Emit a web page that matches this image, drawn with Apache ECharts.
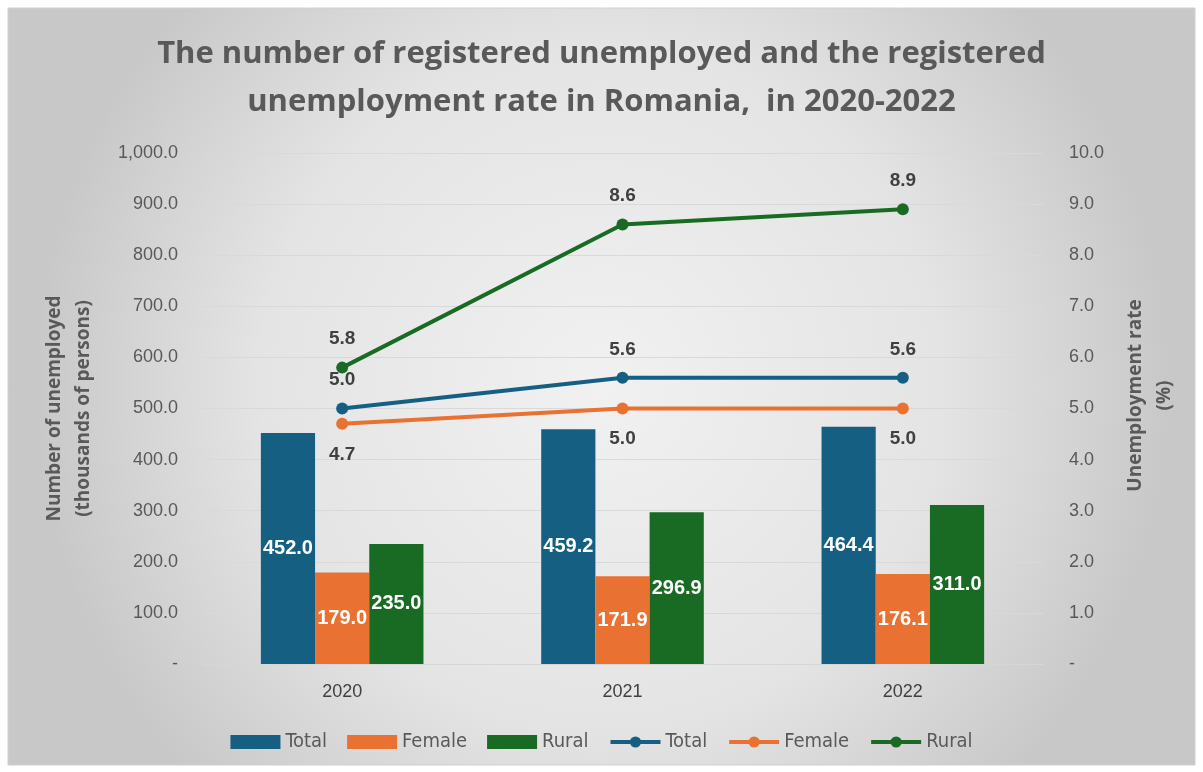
<!DOCTYPE html>
<html>
<head>
<meta charset="utf-8">
<script src="https://cdn.jsdelivr.net/npm/echarts@6/dist/echarts.min.js"></script>
<style>
  html, body { margin: 0; padding: 0; background: #ffffff; }
  #chart { width: 1203px; height: 772px; }
</style>
</head>
<body>
<div id="chart"></div>
<script>
// Registered unemployed (thousands of persons) and unemployment rate (%), Romania
const years = ['2020', '2021', '2022'];
const unemployedTotal = [452.0, 459.2, 464.4];
const unemployedFemale = [179.0, 171.9, 176.1];
const unemployedRural = [235.0, 296.9, 311.0];
const rateTotal = [5.0, 5.6, 5.6];
const rateFemale = [4.7, 5.0, 5.0];
const rateRural = [5.8, 8.6, 8.9];

const C_TOTAL = '#156082';
const C_FEMALE = '#E97132';
const C_RURAL = '#196B24';
const AXIS_TEXT = '#595959';
const LABEL_DARK = '#404040';
const BOLD_FONT = '"Open Sans", Lato, sans-serif';
const PLAIN_FONT = '"Liberation Sans", Arial, sans-serif';
const NARROW_FONT = '"DejaVu Sans Condensed", "Liberation Sans Narrow", "Liberation Sans", sans-serif';

const chart = echarts.init(document.getElementById('chart'));

function barSeries(name, data, color) {
  return {
    name: name,
    type: 'bar',
    data: data,
    yAxisIndex: 0,
    barGap: '0%',
    barCategoryGap: '42%',
    itemStyle: { color: color },
    label: {
      show: true,
      position: 'inside',
      color: '#ffffff',
      fontWeight: 'bold',
      fontSize: 20,
      fontFamily: PLAIN_FONT,
      formatter: p => p.value.toFixed(1)
    }
  };
}

function lineSeries(name, data, color, labelPos, dist) {
  return {
    name: name,
    type: 'line',
    data: data,
    yAxisIndex: 1,
    symbol: 'circle',
    symbolSize: 12,
    lineStyle: { color: color, width: 4 },
    itemStyle: { color: color },
    z: 5,
    label: {
      show: true,
      position: labelPos,
      distance: dist,
      color: LABEL_DARK,
      fontWeight: 'bold',
      fontSize: 19,
      fontFamily: PLAIN_FONT,
      formatter: p => p.value.toFixed(1)
    }
  };
}

const legendLine = color => ({ lineStyle: { width: 4, color: color } });

chart.setOption({
  animation: false,
  graphic: [{
    type: 'rect',
    z: -10,
    silent: true,
    shape: { x: 8, y: 8, width: 1187, height: 757 },
    style: {
      fill: {
        type: 'radial', x: 0.5, y: 0.5, r: 0.75,
        colorStops: [
          { offset: 0, color: '#f1f1f1' },
          { offset: 0.6, color: '#e4e4e4' },
          { offset: 1, color: '#c8c8c8' }
        ]
      },
      stroke: '#d0d0d0',
      lineWidth: 1
    }
  }],
  title: {
    text: 'The number of registered unemployed and the registered\nunemployment rate in Romania,  in 2020-2022',
    left: 'center',
    top: 25,
    textStyle: {
      color: AXIS_TEXT,
      fontSize: 31,
      fontWeight: 'bold',
      fontFamily: BOLD_FONT,
      lineHeight: 48
    }
  },
  legend: {
    bottom: 15,
    left: 'center',
    itemWidth: 50,
    itemHeight: 14,
    itemGap: 20,
    textStyle: {
      color: AXIS_TEXT,
      fontSize: 20,
      fontFamily: NARROW_FONT
    },
    data: [
      { name: 'Total', icon: 'rect' },
      { name: 'Female', icon: 'rect' },
      { name: 'Rural', icon: 'rect' },
      Object.assign({ name: 'Total ' }, legendLine(C_TOTAL)),
      Object.assign({ name: 'Female ' }, legendLine(C_FEMALE)),
      Object.assign({ name: 'Rural ' }, legendLine(C_RURAL))
    ],
    formatter: n => n.trim()
  },
  grid: { left: 202, right: 160, top: 153, bottom: 108 },
  xAxis: {
    type: 'category',
    data: years,
    axisTick: { show: false },
    axisLine: { lineStyle: { color: '#d6d6d6' } },
    axisLabel: {
      color: LABEL_DARK,
      fontSize: 18,
      margin: 19,
      fontFamily: PLAIN_FONT
    }
  },
  yAxis: [{
    type: 'value',
    min: 0, max: 1000, interval: 100,
    name: 'Number of unemployed\n(thousands of persons)',
    nameLocation: 'middle',
    nameRotate: 90,
    nameGap: 104,
    nameTextStyle: {
      color: AXIS_TEXT, fontSize: 19, fontWeight: 'bold',
      fontFamily: BOLD_FONT, lineHeight: 29
    },
    axisLabel: {
      color: AXIS_TEXT, fontSize: 18, margin: 24,
      fontFamily: PLAIN_FONT,
      formatter: v => v === 0 ? '-' : v.toLocaleString('en-US', { minimumFractionDigits: 1, maximumFractionDigits: 1 })
    },
    splitLine: { lineStyle: { color: '#d9d9d9', width: 1 } }
  }, {
    type: 'value',
    min: 0, max: 10, interval: 1,
    name: 'Unemployment rate\n(%)',
    nameLocation: 'middle',
    nameRotate: 90,
    nameGap: 78,
    nameTextStyle: {
      color: AXIS_TEXT, fontSize: 19, fontWeight: 'bold',
      fontFamily: BOLD_FONT, lineHeight: 29,
      padding: [0, 0, 0, 26]
    },
    axisLabel: {
      color: AXIS_TEXT, fontSize: 18, margin: 26,
      fontFamily: PLAIN_FONT,
      formatter: v => v === 0 ? '-' : v.toFixed(1)
    },
    splitLine: { show: false }
  }],
  series: [
    barSeries('Total', unemployedTotal, C_TOTAL),
    barSeries('Female', unemployedFemale, C_FEMALE),
    barSeries('Rural', unemployedRural, C_RURAL),
    lineSeries('Total ', rateTotal, C_TOTAL, 'top', 13),
    lineSeries('Female ', rateFemale, C_FEMALE, 'bottom', 15),
    lineSeries('Rural ', rateRural, C_RURAL, 'top', 13)
  ]
});
</script>
</body>
</html>
